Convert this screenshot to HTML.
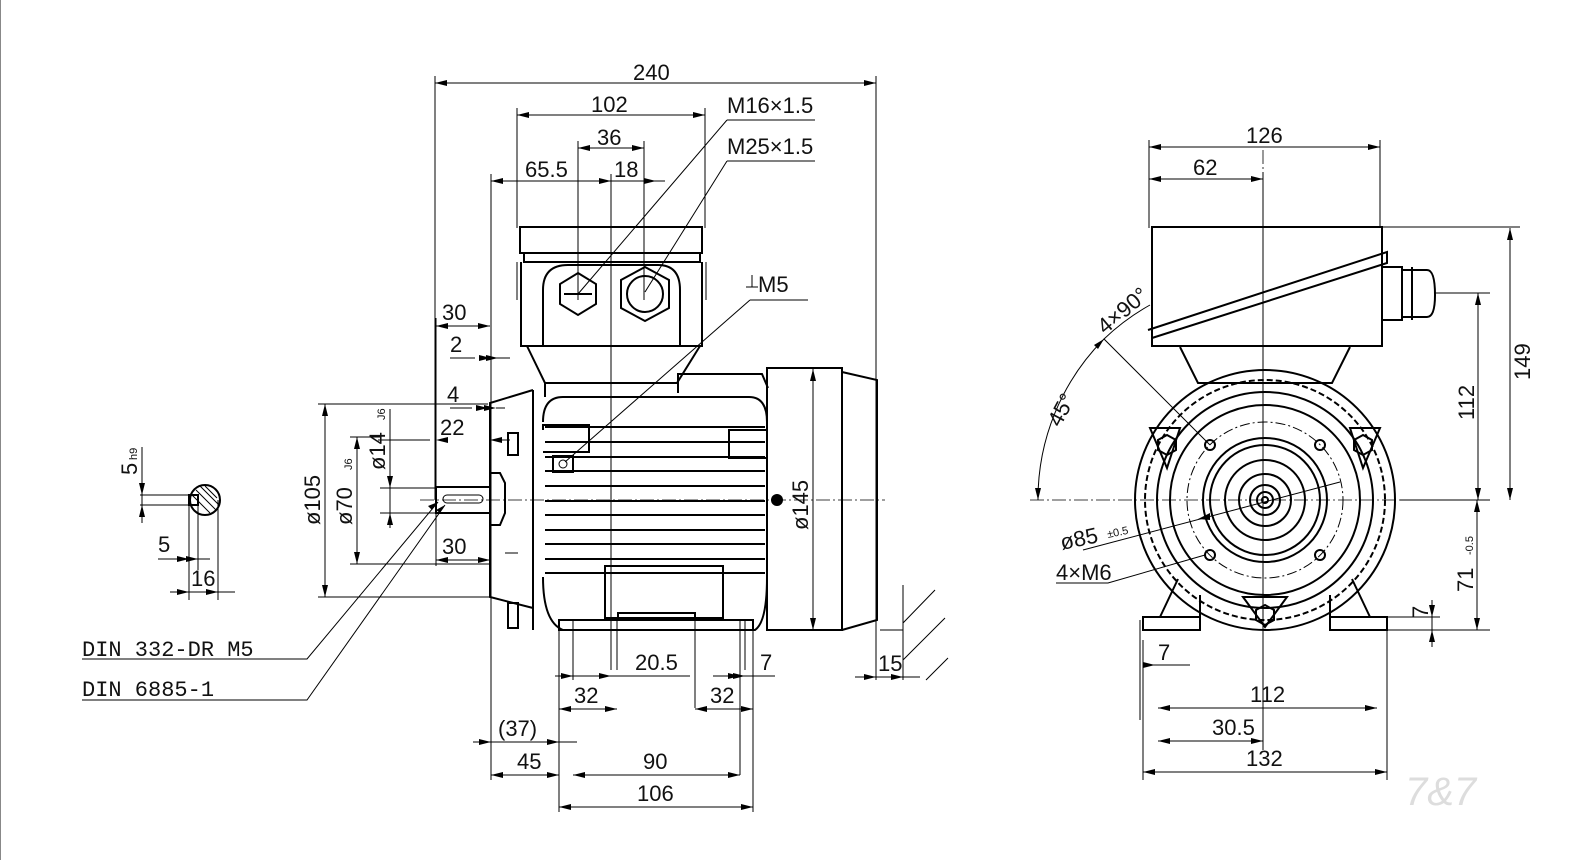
<!DOCTYPE html>
<html><head><meta charset="utf-8"><style>
html,body{margin:0;padding:0;background:#fff;}
svg{display:block}
text{font-family:"Liberation Sans",sans-serif;font-size:22px;fill:#111}
.o{stroke:#000;stroke-width:2;fill:none}
.t{stroke:#000;stroke-width:1;fill:none}
.d{stroke:#000;stroke-width:1;fill:none;marker-start:url(#a);marker-end:url(#a)}
.c{stroke:#000;stroke-width:0.8;fill:none;stroke-dasharray:14 3 2 3}
</style></head><body>
<svg width="1596" height="860" viewBox="0 0 1596 860">
<defs><marker id="a" viewBox="0 0 12 6" refX="12" refY="3" markerWidth="12" markerHeight="6" markerUnits="userSpaceOnUse" orient="auto-start-reverse"><path d="M0,0L12,3L0,6z" fill="#000"/></marker></defs>
<line x1="0" y1="0" x2="0" y2="860" stroke="#888" stroke-width="2"/>

<!-- ===== LEFT VIEW ===== -->
<!-- extension lines -->
<g class="t">
<line x1="435" y1="76" x2="435" y2="500"/><line x1="876" y1="76" x2="876" y2="680"/>
<line x1="517" y1="108" x2="517" y2="228"/><line x1="705" y1="108" x2="705" y2="228"/>
<line x1="578" y1="141" x2="578" y2="300"/><line x1="644" y1="141" x2="644" y2="300"/>
<line x1="491" y1="174" x2="491" y2="780"/><line x1="611" y1="174" x2="611" y2="670"/>
<line x1="436" y1="318" x2="436" y2="566"/>
</g>
<line class="d" x1="435" y1="83" x2="876" y2="83"/><text x="633" y="80">240</text>
<line class="d" x1="517" y1="115" x2="705" y2="115"/><text x="591" y="112">102</text>
<line class="d" x1="578" y1="148" x2="644" y2="148"/><text x="597" y="145">36</text>
<line class="d" x1="491" y1="181" x2="611" y2="181"/><text x="525" y="177">65.5</text>
<line class="t" x1="611" y1="181" x2="665" y2="181"/><path d="M644,181l12,-3v6z" transform="rotate(180 650 181)"/><text x="614" y="177">18</text>
<!-- M16 / M25 leaders -->
<text x="727" y="113">M16×1.5</text><line class="t" x1="727" y1="120" x2="815" y2="120"/><line class="t" x1="727" y1="120" x2="578" y2="294"/>
<text x="727" y="154">M25×1.5</text><line class="t" x1="727" y1="161" x2="815" y2="161"/><line class="t" x1="727" y1="161" x2="645" y2="292"/>
<text x="758" y="292">M5</text><path class="t" d="M752,275v12M746,287h12"/><line class="t" x1="750" y1="300" x2="808" y2="300"/><line class="t" x1="750" y1="300" x2="565" y2="462"/>
<!-- terminal box -->
<rect class="o" x="520" y="227" width="182" height="26"/>
<rect class="o" x="524" y="253" width="176" height="9"/>
<path class="o" d="M521,262V346H702V262"/>
<path class="o" d="M543,346V290q0,-25 25,-25h90q22,0 22,25V346"/>
<path class="t" d="M517,262v38M706,262v38"/>
<polygon class="o" points="578,273 596,284 596,304 578,315 560,304 560,284"/>
<path class="o" d="M564,294h28"/>
<polygon class="o" points="645,267 669,280 669,308 645,321 621,308 621,280"/>
<circle class="o" cx="645" cy="294" r="18"/>
<path class="o" d="M527,346L545,383H677L700,346"/>
<!-- motor body -->
<path class="o" d="M543,422q0,-25 20,-25H749q18,0 18,25"/>
<path class="o" d="M678,393V374H762l6,14"/>
<path class="o" d="M545,383V397"/>
<g class="o" stroke-width="2.5">
<line x1="545" y1="427" x2="765" y2="427"/><line x1="545" y1="442" x2="765" y2="442"/><line x1="545" y1="457" x2="765" y2="457"/><line x1="545" y1="471" x2="765" y2="471"/><line x1="545" y1="486" x2="765" y2="486"/><line x1="545" y1="501" x2="765" y2="501"/><line x1="545" y1="515" x2="765" y2="515"/><line x1="545" y1="530" x2="765" y2="530"/><line x1="545" y1="544" x2="765" y2="544"/><line x1="545" y1="559" x2="765" y2="559"/><line x1="545" y1="573" x2="765" y2="573"/>
</g>
<path class="o" d="M543,577q0,45 20,53H755q12,-8 12,-53"/>
<rect class="o" x="605" y="566" width="118" height="52"/>
<path class="o" d="M533,390V630M533,390L490,403V597L533,608"/>
<path class="o" d="M543,430v-5h46v27h-46M729,430h38v28h-38z"/>
<rect class="o" x="553" y="456" width="20" height="16"/><circle class="t" cx="563" cy="464" r="4"/>
<rect class="o" x="508" y="433" width="10" height="22"/><rect class="o" x="508" y="603" width="10" height="25"/>
<path class="o" d="M490,473h10l5,10v30l-5,12h-10"/>
<rect class="o" x="436" y="487" width="54" height="26"/>
<rect class="t" x="443" y="495" width="40" height="8" rx="4"/>
<line class="t" x1="505" y1="553" x2="518" y2="553"/>
<!-- feet -->
<path class="o" d="M559,620H753V630H559z M618,620V613H695V620"/>
<path class="t" d="M573,620v60M617,620v50M695,620v88M740,620v155M745,620v50M753,620v192M559,620v192"/>
<!-- fan cover -->
<rect class="o" x="767" y="368" width="75" height="262"/>
<path class="o" d="M842,372L877,380V620L842,630"/>
<circle cx="777" cy="500" r="6" fill="#000"/>
<line class="d" x1="813" y1="369" x2="813" y2="630"/>
<text transform="translate(808,530) rotate(-90)">ø145</text>
<line class="c" x1="420" y1="500" x2="885" y2="500"/>
<line class="c" x1="611" y1="200" x2="611" y2="640"/>
<!-- left dims -->
<line class="d" x1="436" y1="326" x2="490" y2="326"/><text x="442" y="320">30</text>
<path class="t" d="M450,358H475M491,358H510"/><path d="M491,358l-12,-3v6z"/><path d="M498,358l12,-3v6z" transform="rotate(180 498 358)"/><text x="450" y="352">2</text>
<path class="t" d="M330,404H488M450,408H472M496,408H505"/><path d="M488,408l-12,-3v6z"/><path d="M496,408l12,-3v6z" transform="rotate(180 496 408)"/><text x="447" y="402">4</text>
<path class="t" d="M378,440H430M498,440H510"/><path d="M436,440l-12,-3v6z" transform="rotate(180 436 440)"/><path d="M490,440l-12,-3v6z" transform="rotate(180 490 440)"/><text x="440" y="435">22</text>
<line class="d" x1="436" y1="560" x2="490" y2="560"/><text x="442" y="554">30</text>
<path class="t" d="M318,404H440M350,437H380M318,597H491M350,564H491M380,488H436M380,513H436"/>
<line class="d" x1="325" y1="404" x2="325" y2="597"/><text transform="translate(320,525) rotate(-90)">ø105</text>
<line class="d" x1="357" y1="437" x2="357" y2="564"/><text transform="translate(352,525) rotate(-90)">ø70</text><text transform="translate(352,470) rotate(-90)" style="font-size:11px">J6</text>
<line class="t" x1="390" y1="409" x2="390" y2="528"/><path d="M390,488l-3,-12h6z"/><path d="M390,513l-3,12h6z"/>
<text transform="translate(385,470) rotate(-90)">ø14</text><text transform="translate(385,420) rotate(-90)" style="font-size:11px">J6</text>
<!-- DIN labels -->
<text x="82" y="656" style="font-family:'Liberation Mono',monospace">DIN 332-DR M5</text>
<path class="t" d="M82,659H307L438,502"/><path d="M438,502l-10,4l4,4z"/>
<text x="82" y="696" style="font-family:'Liberation Mono',monospace">DIN 6885-1</text>
<path class="t" d="M82,700H307L445,505"/><path d="M445,505l-9,5l4,3z"/>
<!-- section -->
<circle class="o" cx="205" cy="500" r="15"/>
<path class="t" d="M196,490l20,20M200,486l18,18M192,495l18,18M205,486l12,12"/>
<rect class="o" x="189" y="495" width="9" height="10" fill="#fff"/>
<path class="t" d="M140,495H190M140,505H190M189,505V600M218,500V600M198,505V570"/>
<line class="t" x1="142" y1="447" x2="142" y2="523"/><path d="M142,495l-3,-12h6z"/><path d="M142,505l-3,12h6z"/>
<text transform="translate(137,475) rotate(-90)">5</text><text transform="translate(137,460) rotate(-90)" style="font-size:11px">h9</text>
<line class="t" x1="158" y1="559" x2="210" y2="559"/><path d="M189,559l-12,-3v6z"/><path d="M198,559l12,-3v6z" transform="rotate(180 198 559)"/><text x="158" y="552">5</text>
<line class="t" x1="170" y1="592" x2="235" y2="592"/><path d="M189,592l-12,-3v6z"/><path d="M218,592l12,-3v6z" transform="rotate(180 218 592)"/><text x="191" y="586">16</text>
<!-- bottom dims -->
<line class="t" x1="555" y1="676" x2="690" y2="676"/><path d="M573,676l-12,-3v6z"/><path d="M611,676l12,-3v6z" transform="rotate(180 611 676)"/><text x="635" y="670">20.5</text>
<line class="t" x1="713" y1="676" x2="775" y2="676"/><path d="M740,676l-12,-3v6z"/><path d="M745,676l12,-3v6z" transform="rotate(180 745 676)"/><text x="760" y="670">7</text>
<line class="d" x1="559" y1="709" x2="617" y2="709"/><text x="574" y="703">32</text>
<line class="d" x1="695" y1="709" x2="753" y2="709"/><text x="710" y="703">32</text>
<line class="t" x1="473" y1="742" x2="577" y2="742"/><path d="M491,742l-12,-3v6z"/><path d="M559,742l12,-3v6z" transform="rotate(180 559 742)"/><text x="498" y="736">(37)</text>
<line class="d" x1="491" y1="775" x2="559" y2="775"/><text x="517" y="769">45</text>
<line class="d" x1="573" y1="775" x2="740" y2="775"/><text x="643" y="769">90</text>
<line class="d" x1="559" y1="807" x2="753" y2="807"/><text x="637" y="801">106</text>
<line class="t" x1="855" y1="677" x2="920" y2="677"/><path d="M876,677l-12,-3v6z"/><path d="M903,677l12,-3v6z" transform="rotate(180 903 677)"/><text x="878" y="671">15</text>
<path class="t" d="M903,585V680M903,623L935,590M903,660L945,618M926,680L948,658M880,630H903"/>

<!-- ===== RIGHT VIEW ===== -->
<path class="t" d="M1149,140V228M1380,140V228M1263,172V640M1382,227H1520M1435,293H1490M1380,630H1490M1140,620V720M1387,630V780M1143,640V780M1263,640V750"/>
<line class="d" x1="1149" y1="147" x2="1380" y2="147"/><text x="1246" y="143">126</text>
<line class="d" x1="1149" y1="179" x2="1263" y2="179"/><text x="1193" y="175">62</text>
<rect class="o" x="1152" y="227" width="230" height="119"/>
<path class="o" d="M1148,330L1387,252L1387,263L1152,338"/>
<path class="o" d="M1382,267h20v53h-20zM1402,270h25q8,0 8,25q0,22-8,22h-25zM1412,267v53"/>
<path class="o" d="M1180,347L1198,383H1332L1350,347"/>
<line class="c" x1="1263" y1="150" x2="1263" y2="645"/>
<line class="c" x1="1030" y1="500" x2="1400" y2="500"/>
<circle class="o" cx="1265" cy="500" r="130"/>
<circle class="o" cx="1265" cy="500" r="120" stroke-dasharray="6 3" stroke-width="4"/>
<circle class="o" cx="1265" cy="500" r="108"/>
<circle class="o" cx="1265" cy="500" r="95"/>
<circle class="t" cx="1265" cy="500" r="78" stroke-dasharray="10 3 2 3"/>
<circle class="o" cx="1265" cy="500" r="62"/>
<circle class="o" cx="1265" cy="500" r="55"/>
<circle class="o" cx="1265" cy="500" r="40"/>
<circle class="o" cx="1265" cy="500" r="26"/>
<circle class="o" cx="1265" cy="500" r="15"/>
<circle class="o" cx="1265" cy="500" r="8"/>
<circle class="o" cx="1265" cy="500" r="3"/>
<g class="o"><circle cx="1210" cy="445" r="5"/><circle cx="1320" cy="445" r="5"/><circle cx="1210" cy="555" r="5"/><circle cx="1320" cy="555" r="5"/></g>
<g class="o"><polygon points="1167,435 1176,440 1176,450 1167,455 1158,450 1158,440"/><polygon points="1363,435 1372,440 1372,450 1363,455 1354,450 1354,440"/><polygon points="1265,605 1274,610 1274,620 1265,625 1256,620 1256,610"/>
<path d="M1150,428h30l-13,40zM1350,428h30l-17,40zM1243,597h44l-22,30z"/></g>
<path class="o" d="M1143,617H1200V630H1143zM1330,617H1387V630H1330zM1160,617l18,-38M1200,617V595M1370,617l-18,-38M1330,617V595"/>
<!-- right dims -->
<line class="d" x1="1510" y1="228" x2="1510" y2="500"/><text transform="translate(1530,380) rotate(-90)">149</text>
<line class="d" x1="1478" y1="293" x2="1478" y2="500"/><text transform="translate(1474,420) rotate(-90)">112</text>
<line class="d" x1="1477" y1="500" x2="1477" y2="630"/><text transform="translate(1473,592) rotate(-90)">71</text><text transform="translate(1473,555) rotate(-90)" style="font-size:11px">-0.5</text>
<path class="t" d="M1400,500H1490M1387,617H1440"/>
<line class="t" x1="1432" y1="600" x2="1432" y2="647"/><path d="M1432,617l-3,-12h6z"/><path d="M1432,630l-3,12h6z"/><text transform="translate(1428,618) rotate(-90)">7</text>
<line class="t" x1="1145" y1="665" x2="1190" y2="665"/><text x="1158" y="660">7</text><path d="M1143,665l12,-3v6z" transform="rotate(180 1149 665)"/>
<line class="d" x1="1158" y1="708" x2="1377" y2="708"/><text x="1250" y="702">112</text>
<line class="d" x1="1158" y1="741" x2="1263" y2="741"/><text x="1212" y="735">30.5</text>
<line class="d" x1="1143" y1="772" x2="1387" y2="772"/><text x="1246" y="766">132</text>
<path class="t" d="M1038,500A227,227 0 0 1 1104,339L1210,445"/>
<path d="M1038,500l-3,-12h6z"/><path d="M1104,339l-10,6l4,4z"/>
<path class="t" d="M1104,339A227,227 0 0 1 1150,305"/>
<text transform="translate(1060,428) rotate(-62)">45°</text>
<text transform="translate(1105,335) rotate(-40)">4×90°</text>
<text transform="translate(1062,550) rotate(-12)">ø85</text><text transform="translate(1108,538) rotate(-12)" style="font-size:11px">±0.5</text>
<path class="t" d="M1083,550L1340,482"/><path d="M1198,519l12,-6v7z"/>
<text x="1056" y="580">4×M6</text><path class="t" d="M1056,583H1108L1205,555"/>
<!-- logo -->
<text x="1405" y="805" style="font-size:40px;font-style:italic;fill:#ddd">7&amp;7</text>
</svg>
</body></html>
